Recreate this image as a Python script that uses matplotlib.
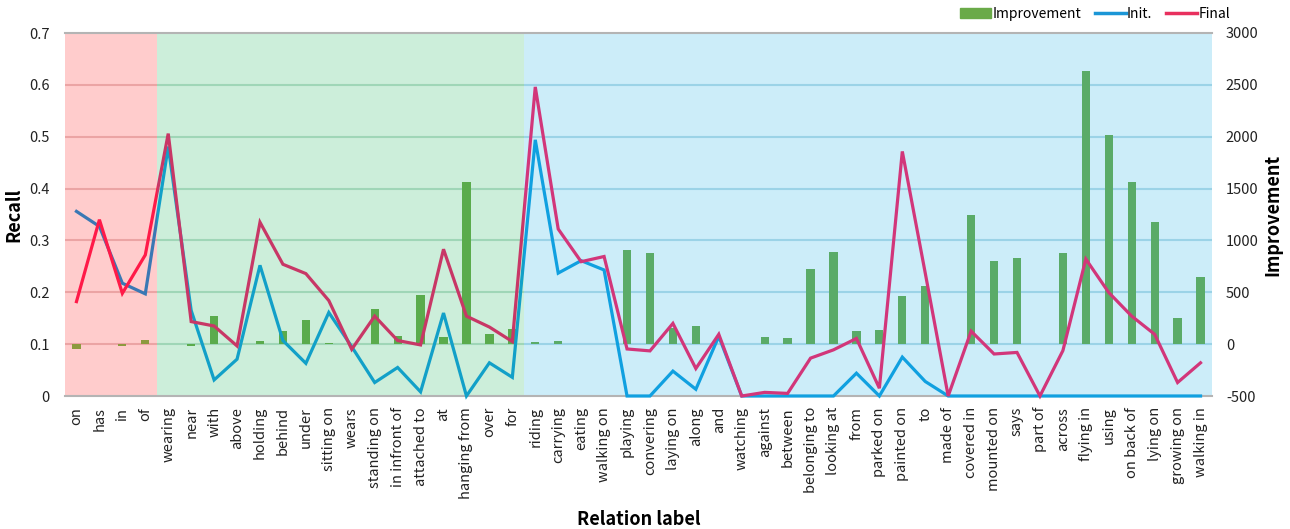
import numpy as np
import matplotlib
matplotlib.use('Agg')
import matplotlib.pyplot as plt
from matplotlib.patches import Rectangle, Patch
from matplotlib.lines import Line2D

plt.rcParams['font.family'] = ['Noto Sans CJK KR', 'DejaVu Sans']

labels = ['on', 'has', 'in', 'of',
          'wearing', 'near', 'with', 'above', 'holding', 'behind', 'under',
          'sitting on', 'wears', 'standing on', 'in infront of', 'attached to',
          'at', 'hanging from', 'over', 'for',
          'riding', 'carrying', 'eating', 'walking on', 'playing', 'convering',
          'laying on', 'along', 'and', 'watching', 'against', 'between',
          'belonging to', 'looking at', 'from', 'parked on', 'painted on', 'to',
          'made of', 'covered in', 'mounted on', 'says', 'part of', 'across',
          'flying in', 'using', 'on back of', 'lying on', 'growing on', 'walking in']

init = [0.356, 0.327, 0.2175, 0.197,
        0.481, 0.165, 0.031, 0.071, 0.252, 0.107, 0.063, 0.161, 0.095, 0.026,
        0.055, 0.008, 0.160, 0.0, 0.064, 0.036,
        0.494, 0.237, 0.261, 0.243, 0.0, 0.0, 0.048, 0.013, 0.115, 0.0,
        0.0, 0.0, 0.0, 0.0, 0.044, 0.0, 0.075, 0.028, 0.0, 0.0,
        0.0, 0.0, 0.0, 0.0, 0.0, 0.0, 0.0, 0.0, 0.0, 0.0]

final = [0.182, 0.340, 0.198, 0.272,
         0.506, 0.1435, 0.135, 0.0965, 0.335, 0.254, 0.236, 0.184, 0.090, 0.154,
         0.107, 0.0985, 0.283, 0.154, 0.133, 0.105,
         0.596, 0.322, 0.259, 0.269, 0.0907, 0.087, 0.140, 0.053, 0.119, 0.0,
         0.007, 0.005, 0.073, 0.089, 0.111, 0.015, 0.4716, 0.237, 0.0, 0.125,
         0.081, 0.084, 0.0, 0.0875, 0.264, 0.1995, 0.154, 0.119, 0.026, 0.064]

improvement = [-50, 5, -15, 39,
               5, -20, 270, 0, 29, 126, 232, 13, 0, 338, 77, 470, 68, 1565, 93, 145,
               19, 32, -3, 3, 908, 876, 151, 174, 0, 0, 68, 55, 721, 885, 126, 135,
               467, 563, 0, 1249, 805, 830, 0, 876, 2636, 2018, 1565, 1175, 254, 650]

# frequency groups: (first index, last index, background, grid, bar, init line, final line)
groups = [
    (0, 3, '#ffcccc', '#eba4a4', '#8d9a3e', '#3a78b4', '#ff1a48'),
    (4, 19, '#cceeda', '#9fd6b7', '#5aab4c', '#12a0c8', '#c83766'),
    (20, 49, '#ccedf9', '#9bd3e7', '#5aab68', '#10a0e0', '#d2367a'),
]

x = np.arange(len(labels))

fig = plt.figure(figsize=(12.9, 5.29), dpi=100)
ax = fig.add_axes([65 / 1290, 1 - 396 / 529, (1212 - 65) / 1290, (396 - 33) / 529])
ax2 = ax.twinx()

ax.set_xlim(-0.5, len(labels) - 0.5)
ax.set_ylim(-500, 3000)
ax2.set_ylim(0, 0.7)

grid_levels = np.arange(-500, 3001, 500)
for g0, g1, bg, grid, barc, ci, cf in groups:
    ax.axvspan(g0 - 0.5, g1 + 0.5, color=bg, lw=0, zorder=0)
    ax.hlines(grid_levels[1:-1], g0 - 0.5, g1 + 0.5, colors=grid, lw=1.5, zorder=1)
    idx = np.arange(g0, g1 + 1)
    ax.bar(idx, [improvement[i] for i in idx], width=0.36, color=barc, zorder=2)

# lines change tint with the background they sit on
for g0, g1, bg, grid, barc, ci, cf in groups:
    clip = Rectangle((g0 - 0.5, -1), g1 - g0 + 1, 3, transform=ax2.transData)
    for series, col in ((init, ci), (final, cf)):
        ln, = ax2.plot(x, series, color=col, lw=2.3, solid_joinstyle='miter', zorder=3)
        ln.set_clip_path(clip)

ax.axhline(3000, color='#b4b4b4', lw=1.5, zorder=4, clip_on=False)
ax.axhline(-500, color='#b4b4b4', lw=1.5, zorder=4, clip_on=False)

for a in (ax, ax2):
    for s in a.spines.values():
        s.set_visible(False)
    a.tick_params(length=0, labelsize=10.5, colors='#222222')

ax.set_xticks(x)
ax.set_xticklabels(labels, rotation=90, fontsize=10.5)
ax.tick_params(axis='x', pad=8)

ax.yaxis.tick_right()
ax.yaxis.set_label_position('right')
ax.set_yticks(grid_levels)
ax.set_yticklabels([str(v) for v in grid_levels])
ax.tick_params(axis='y', pad=10)

ax2.yaxis.tick_left()
ax2.yaxis.set_label_position('left')
rticks = np.round(np.arange(0, 0.71, 0.1), 1)
ax2.set_yticks(rticks)
ax2.set_yticklabels(['0'] + [f'{v:.1f}' for v in rticks[1:]])
ax2.tick_params(axis='y', pad=11)

ax2.set_ylabel('Recall', fontsize=13, fontweight='bold', labelpad=4)
ax.set_ylabel('Improvement', fontsize=13, fontweight='bold', labelpad=3)
ax.set_xlabel('Relation label', fontsize=13, fontweight='bold', labelpad=8)

handles = [Patch(color='#6aaa48', label='Improvement'),
           Line2D([], [], color='#1b96d6', lw=2.5, label='Init.'),
           Line2D([], [], color='#e8305e', lw=2.5, label='Final')]
fig.legend(handles=handles, loc='upper right', bbox_to_anchor=(0.963, 1.01), ncol=3,
           frameon=False, fontsize=10, handlelength=2.2, handletextpad=0.1,
           columnspacing=1.0)

fig.savefig('out.png', dpi=100)
